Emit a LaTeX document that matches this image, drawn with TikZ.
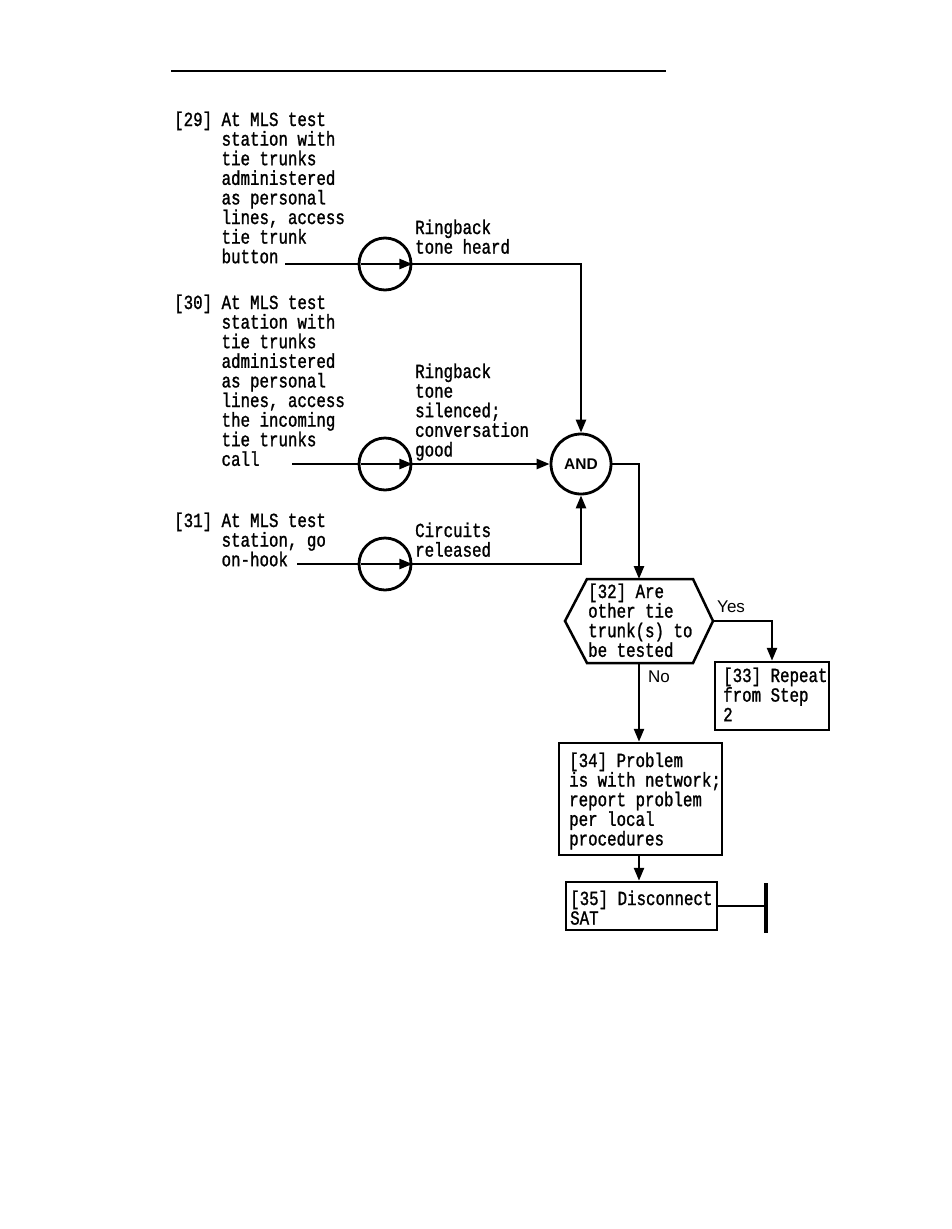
\documentclass[tikz,border=0pt]{standalone}
\usepackage{fontspec}
\usetikzlibrary{arrows.meta}
\newfontfamily\monof[FakeStretch=0.79, FakeBold=1.2]{Liberation Mono}
\newfontfamily\sansf{Liberation Sans}
\newcommand\tblock[1]{\vtop{\baselineskip=19.6pt\lineskiplimit=-100pt\lineskip=0pt\let\\\cr\halign{##\hfil\cr#1\crcr}}}
\newcommand\nblock[2]{\vtop{\baselineskip=19.6pt\lineskiplimit=-100pt\lineskip=0pt\let\\\cr\halign{##\hfil&\ ##\hfil\cr#1&#2\crcr}}}
\tikzset{
  txt/.style={inner sep=0pt, anchor=base west, font={\monof\fontsize{20}{19.6}\selectfont}},
  lbl/.style={inner sep=0pt, anchor=base west, font={\sansf\fontsize{17}{20}\selectfont}},
  ln/.style={line width=2.5pt},
  arr/.style={line width=2.5pt, -{Triangle[length=13pt,width=10pt]}},
  box/.style={draw, line width=2.5pt, inner sep=0pt},
  gate/.style={circle, draw, line width=2.8pt, inner sep=0pt, minimum size=52pt},
}
\begin{document}
\begin{tikzpicture}[x=1pt, y=-1pt]
\useasboundingbox (0,0) rectangle (951,1229);
\fill[white] (0,0) rectangle (951,1229);

% top rule
\coordinate (rl) at (171,71);
\coordinate (rr) at (666,71);
\draw[line width=2.8pt] (rl) -- (rr);

% step texts
\node[txt] (t29) at (174,126) {\nblock{[29]}{At MLS test\\ & station with\\ & tie trunks\\ & administered\\ & as personal\\ & lines, access\\ & tie trunk\\ & button}};
\node[txt] (t30) at (174,309) {\nblock{[30]}{At MLS test\\ & station with\\ & tie trunks\\ & administered\\ & as personal\\ & lines, access\\ & the incoming\\ & tie trunks\\ & call}};
\node[txt] (t31) at (174,527) {\nblock{[31]}{At MLS test\\ & station, go\\ & on-hook}};

% gates
\node[gate] (c1) at (385,264) {};
\node[gate] (c2) at (385,464) {};
\node[gate] (c3) at (385,564) {};
\node[gate, minimum size=60pt, font={\sansf\bfseries\fontsize{15.5}{18}\selectfont}] (and) at (581,464) {AND};

% inputs
\coordinate (s29) at (285,264);
\coordinate (s30) at (292,464);
\coordinate (s31) at (297,564);
\draw[ln] (s29) -- (c1.west);
\draw[ln] (s30) -- (c2.west);
\draw[ln] (s31) -- (c3.west);
\draw[arr] ([xshift=3pt]c1.west) -- (c1.east);
\draw[arr] ([xshift=3pt]c2.west) -- (c2.east);
\draw[arr] ([xshift=3pt]c3.west) -- (c3.east);

% condition labels
\node[txt] (r1) at (415,234) {\tblock{Ringback\\tone heard}};
\node[txt] (r2) at (415,378) {\tblock{Ringback\\tone\\silenced;\\conversation\\good}};
\node[txt] (r3) at (415,537) {\tblock{Circuits\\released}};

% to AND
\draw[arr] (c1.east) -| (and.north);
\draw[arr] (c2.east) -- (and.west);
\draw[arr] (c3.east) -| (and.south);

% decision hexagon
\coordinate (hTL) at (587,579);
\coordinate (hT) at (639,579);
\coordinate (hTR) at (693,579);
\coordinate (hR) at (713,621);
\coordinate (hBR) at (693,663);
\coordinate (hB) at (639,663);
\coordinate (hBL) at (587,663);
\coordinate (hL) at (565,621);
\draw[ln, line join=miter] (hTL) -- (hTR) -- (hR) -- (hBR) -- (hBL) -- (hL) -- cycle;
\node[txt] (t32) at (588,598) {\tblock{[32] Are\\other tie\\trunk(s) to\\be tested}};

\draw[arr] (and.east) -| (hT);

% boxes
\node[box, minimum width=114pt, minimum height=68pt] (b33) at (772,696) {};
\node[txt] (t33) at (723,682) {\tblock{[33] Repeat\\from Step\\2}};
\node[box, minimum width=163pt, minimum height=112pt] (b34) at (640.5,799) {};
\node[txt] (t34) at (569,767) {\tblock{[34] Problem\\is with network;\\report problem\\per local\\procedures}};
\node[box, minimum width=151pt, minimum height=48pt] (b35) at (641.5,906) {};
\node[txt] (t35) at (570,905) {\tblock{[35] Disconnect\\SAT}};

\draw[arr] (hR) -| (b33.north);
\node[lbl] (yes) at (717,612) {Yes};
\draw[arr] (hB) -- (hB |- b34.north);
\node[lbl] (no) at (648,682) {No};
\draw[arr] (hB |- b34.south) -- (hB |- b35.north);

% terminator
\coordinate (barT) at (766,883);
\coordinate (barB) at (766,933);
\draw[ln] (b35.east) -- (b35.east -| barT);
\draw[line width=4pt] (barT) -- (barB);
\end{tikzpicture}
\end{document}
